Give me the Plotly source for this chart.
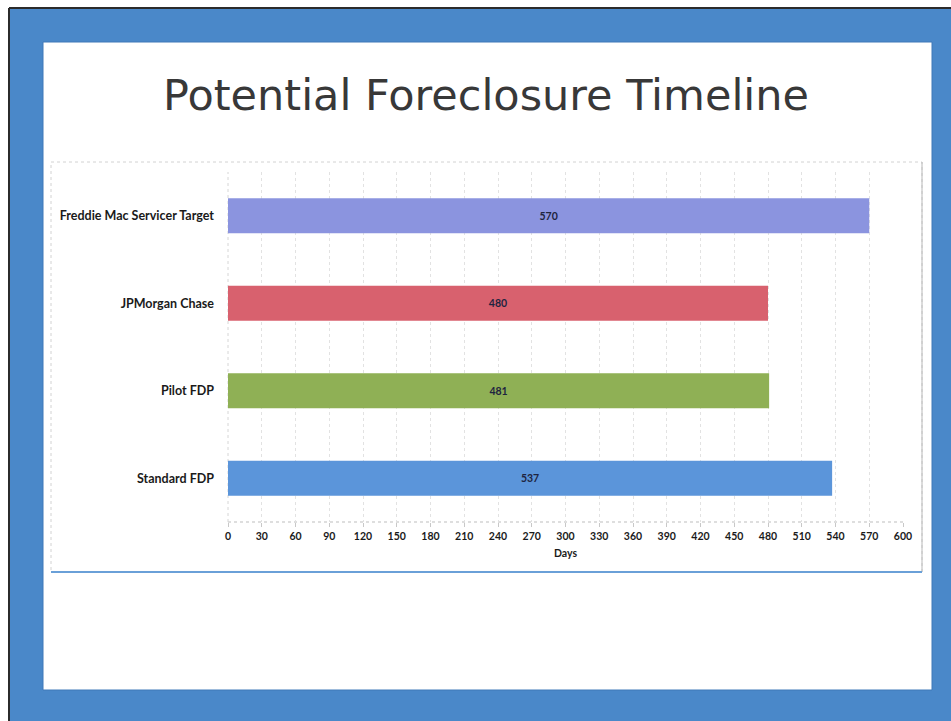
import plotly.graph_objects as go

# ---- data ----
categories = ["Freddie Mac Servicer Target", "JPMorgan Chase", "Pilot FDP", "Standard FDP"]
days = [570, 480, 481, 537]
bar_colors = ["#8b94df", "#d8616e", "#8fb055", "#5b95da"]
x_ticks = list(range(0, 601, 30))

W, H = 951, 721
L, R, T, B = 228, 903, 172, 522  # plot area in pixels


def px(x):
    return (x - L) / (R - L)


def py(y):
    return (B - y) / (B - T)


fig = go.Figure()
fig.add_trace(go.Bar(
    y=categories, x=days, orientation="h",
    marker=dict(color=bar_colors, line=dict(width=0)),
    width=0.4,
    text=[str(v) for v in days],
    textposition="inside", insidetextanchor="middle",
    textfont=dict(family="Lato", size=10.5, color="#1e2440", weight="bold"),
    hoverinfo="skip",
))

shapes = [
    # blue background
    dict(type="rect", xref="paper", yref="paper", x0=px(9), x1=px(W), y0=py(8), y1=py(H),
         fillcolor="#4a88c9", line=dict(width=0), layer="below"),
    # dark frame edges (left, top)
    dict(type="line", xref="paper", yref="paper", x0=px(9), x1=px(9), y0=py(8), y1=py(H),
         line=dict(color="#2b2b2b", width=2), layer="below"),
    dict(type="line", xref="paper", yref="paper", x0=px(9), x1=px(W), y0=py(8), y1=py(8),
         line=dict(color="#2b2b2b", width=2), layer="below"),
    # white slide
    dict(type="rect", xref="paper", yref="paper", x0=px(43), x1=px(932), y0=py(42), y1=py(690),
         fillcolor="#ffffff", line=dict(color="#3f78b8", width=1), layer="below"),
    # chart box
    dict(type="rect", xref="paper", yref="paper", x0=px(51), x1=px(922), y0=py(162), y1=py(572),
         fillcolor="#ffffff", line=dict(color="#d2d2d2", width=1, dash="dot"), layer="below"),
    dict(type="line", xref="paper", yref="paper", x0=px(922), x1=px(922), y0=py(162), y1=py(572),
         line=dict(color="#b8b8b8", width=1), layer="below"),
    dict(type="line", xref="paper", yref="paper", x0=px(51), x1=px(922), y0=py(572), y1=py(572),
         line=dict(color="#6aa0d8", width=2), layer="below"),
    # axis lines (dotted)
    dict(type="line", xref="paper", yref="paper", x0=0, x1=1, y0=0, y1=0,
         line=dict(color="#bdbdbd", width=1, dash="dot"), layer="below"),
    dict(type="line", xref="paper", yref="paper", x0=0, x1=0, y0=0, y1=1,
         line=dict(color="#d6d6d6", width=1, dash="dot"), layer="below"),
]

fig.update_layout(
    width=W, height=H,
    margin=dict(l=L, r=W - R, t=T, b=H - B, pad=0),
    paper_bgcolor="#ffffff", plot_bgcolor="rgba(0,0,0,0)",
    showlegend=False,
    shapes=shapes,
    font=dict(family="Lato", color="#1a1a1a"),
    annotations=[
        dict(text="Potential Foreclosure Timeline", xref="paper", yref="paper",
             x=px(486), y=py(95), xanchor="center", yanchor="middle", showarrow=False,
             font=dict(family="DejaVu Sans", size=43, color="#383838")),
        dict(text="<b>Days</b>", xref="paper", yref="paper",
             x=px(565), y=py(553), xanchor="center", yanchor="middle", showarrow=False,
             font=dict(family="Lato", size=10.5, color="#1a1a1a")),
    ],
    xaxis=dict(
        range=[0, 600], tickmode="array", tickvals=x_ticks, ticktext=[str(t) for t in x_ticks],
        showgrid=True, gridcolor="#e2e2e2", griddash="dot", gridwidth=1,
        zeroline=False, showline=False,
        ticks="outside", ticklen=4, tickcolor="#c8c8c8",
        tickfont=dict(family="Lato", size=10.5, color="#1a1a1a", weight="bold"),
        fixedrange=True,
    ),
    yaxis=dict(
        autorange="reversed", showgrid=False, zeroline=False, showline=False,
        ticks="", ticklabelstandoff=13,
        tickfont=dict(family="Lato", size=12.5, color="#1a1a1a", weight="bold"),
        fixedrange=True,
    ),
)

fig.write_html(
    "out.html",
    config={"displayModeBar": False},
    post_script=(
        "document.documentElement.style.overflow='hidden';"
        "document.body.style.margin='0';document.body.style.overflow='hidden';"
        "document.body.style.background='#4a88c9';"
    ),
)
